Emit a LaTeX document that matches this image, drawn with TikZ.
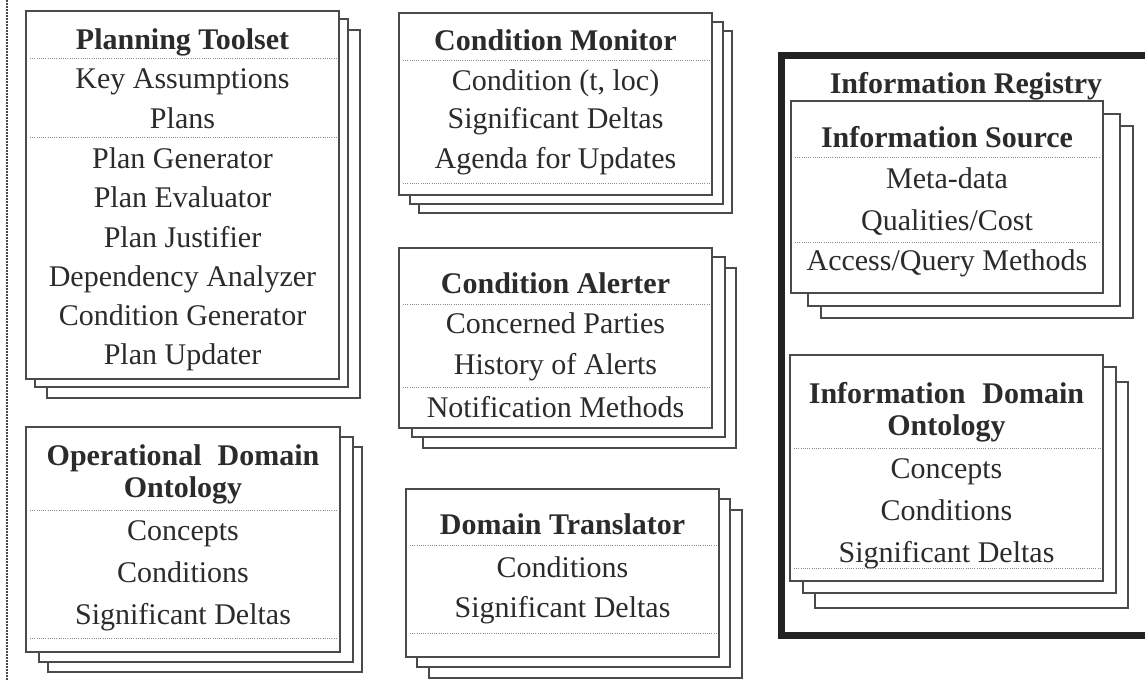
\documentclass[tikz,border=0pt]{standalone}
\usepackage{fontspec}
\setmainfont{Liberation Serif}
\definecolor{ink}{HTML}{2B2B2B}
\definecolor{edge}{HTML}{4A4A4A}
\definecolor{rulegray}{HTML}{8C8C8C}
\definecolor{frame}{HTML}{222222}

\tikzset{
  sheet/.style={draw=edge, fill=white, line width=1.6pt, inner sep=0pt, outer sep=0pt},
  sepline/.style={draw=rulegray, line width=0.9pt, dash pattern=on 1pt off 1.2pt},
  margin rule/.style={draw=edge, line width=1.6pt, dash pattern=on 1.5pt off 1.5pt},
  txt/.style={text=ink, anchor=base, inner sep=0pt, font=\fontsize{30}{31}\selectfont},
  ttl/.style={txt, font=\fontsize{30}{31}\selectfont\bfseries},
}

% a front sheet with two sheets peeking out behind it
% #1 name, #2..#5 front corners (x1,y1,x2,y2), #6 and #7 offsets of the back sheets
\newcommand\sheetstack[7]{%
  \node[sheet, minimum width={#4-#2}, minimum height={#5-#3}, shift={(#7)}]
    (#1-back2) at ({(#2+#4)/2},{(#3+#5)/2}) {};
  \node[sheet, minimum width={#4-#2}, minimum height={#5-#3}, shift={(#6)}]
    (#1-back1) at ({(#2+#4)/2},{(#3+#5)/2}) {};
  \node[sheet, minimum width={#4-#2}, minimum height={#5-#3}]
    (#1) at ({(#2+#4)/2},{(#3+#5)/2}) {};
}
% dotted compartment divider: #1 left x, #2 right x, #3 y
\newcommand\divider[3]{\draw[sepline] ({#1+4},#3) -- ({#2-3},#3);}

\begin{document}
\begin{tikzpicture}[x=1pt, y=-1pt]
  \fill[white] (0,0) rectangle (1145,681);
  \useasboundingbox (0,0) rectangle (1145,681);

  % margin rule on the left
  \draw[margin rule] (7,0) -- (7,681);

  % ---------- Planning Toolset ----------
  \sheetstack{plan}{26}{11}{339}{379}{9,8}{21,19}
  \node[ttl] (plan-title) at (182.5,49) {Planning Toolset};
  \divider{26}{339}{58}
  \node[txt] (plan-ka)  at (182.5,88)  {Key Assumptions};
  \node[txt] (plan-pl)  at (182.5,128) {Plans};
  \divider{26}{339}{137}
  \node[txt] (plan-gen) at (182.5,168) {Plan Generator};
  \node[txt] (plan-ev)  at (182.5,207) {Plan Evaluator};
  \node[txt] (plan-jus) at (182.5,247) {Plan Justifier};
  \node[txt] (plan-dep) at (182.5,286) {Dependency Analyzer};
  \node[txt] (plan-cg)  at (182.5,325) {Condition Generator};
  \node[txt] (plan-up)  at (182.5,364) {Plan Updater};

  % ---------- Operational Domain Ontology ----------
  \sheetstack{odo}{26}{427}{340}{652}{13,10}{22,20}
  \node[ttl] (odo-title1) at (183,465) {Operational\hspace{16pt}Domain};
  \node[ttl] (odo-title2) at (183,497) {Ontology};
  \divider{26}{340}{510}
  \node[txt] (odo-con)  at (183,540) {Concepts};
  \node[txt] (odo-cond) at (183,582) {Conditions};
  \node[txt] (odo-sd)   at (183,624) {Significant Deltas};
  \divider{26}{340}{638}

  % ---------- Condition Monitor ----------
  \sheetstack{cmon}{399}{13}{712}{195}{11,9}{20,18}
  \node[ttl] (cmon-title) at (555.5,50) {Condition Monitor};
  \divider{399}{712}{60}
  \node[txt] (cmon-c)  at (555.5,90)  {Condition (t, loc)};
  \node[txt] (cmon-sd) at (555.5,128) {Significant Deltas};
  \node[txt] (cmon-ag) at (555.5,168) {Agenda for Updates};
  \divider{399}{712}{183}

  % ---------- Condition Alerter ----------
  \sheetstack{calr}{399}{248}{712}{428}{13,9}{24,20}
  \node[ttl] (calr-title) at (555.5,293) {Condition Alerter};
  \divider{399}{712}{304}
  \node[txt] (calr-cp) at (555.5,333) {Concerned Parties};
  \node[txt] (calr-ha) at (555.5,374) {History of Alerts};
  \divider{399}{712}{387}
  \node[txt] (calr-nm) at (555.5,417) {Notification Methods};

  % ---------- Domain Translator ----------
  \sheetstack{dtr}{406}{489}{719}{657}{11,10}{23,21}
  \node[ttl] (dtr-title) at (562.5,534) {Domain Translator};
  \divider{406}{719}{545}
  \node[txt] (dtr-cond) at (562.5,577) {Conditions};
  \node[txt] (dtr-sd)   at (562.5,617) {Significant Deltas};
  \divider{406}{719}{633}

  % ---------- Information Registry ----------
  \draw[frame, line width=7pt] (1170,55) -- (781,55) -- (781,635) -- (1170,635);

  \sheetstack{isrc}{791}{101}{1103}{293}{17,13}{30,25}
  \node[ttl] (reg-title) at (966,93) {Information Registry};
  \node[ttl] (isrc-title) at (947,147) {Information Source};
  \divider{791}{1103}{157}
  \node[txt] (isrc-md) at (947,188) {Meta-data};
  \node[txt] (isrc-qc) at (947,230) {Qualities/Cost};
  \divider{791}{1103}{242}
  \node[txt] (isrc-aq) at (947,270) {Access/Query Methods};

  \sheetstack{ido}{790}{355}{1103}{581}{13,12}{25,27}
  \node[ttl] (ido-title1) at (946.5,403) {Information\hspace{17pt}Domain};
  \node[ttl] (ido-title2) at (946.5,435) {Ontology};
  \divider{790}{1103}{448}
  \node[txt] (ido-con)  at (946.5,478) {Concepts};
  \node[txt] (ido-cond) at (946.5,520) {Conditions};
  \node[txt] (ido-sd)   at (946.5,562) {Significant Deltas};
  \divider{790}{1103}{568}
\end{tikzpicture}
\end{document}
